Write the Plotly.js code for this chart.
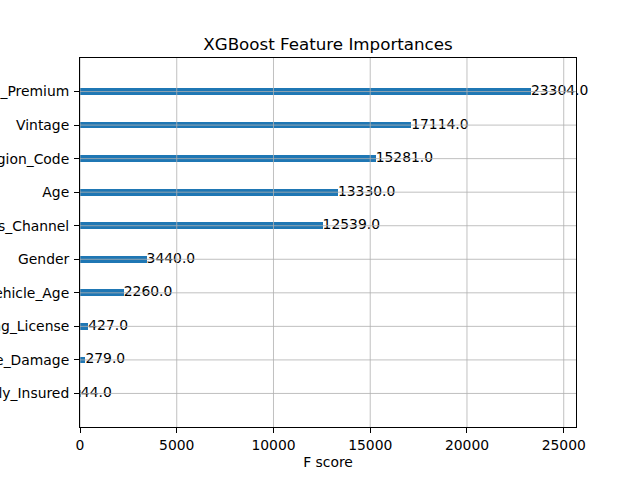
<!DOCTYPE html>
<html>
<head>
<meta charset="utf-8">
<script src="https://cdn.plot.ly/plotly-3.0.1.min.js"></script>
<style>html,body{margin:0;padding:0;background:#fff;}#chart{width:640px;height:480px;}</style>
</head>
<body>
<div id="chart"></div>
<script>
// Data (bottom to top, as drawn)
const features = ["Previously_Insured", "Vehicle_Damage", "Driving_License", "Vehicle_Age", "Gender",
                  "Policy_Sales_Channel", "Age", "Region_Code", "Vintage", "Annual_Premium"];
const fscores = [44, 279, 427, 2260, 3440, 12539, 13330, 15281, 17114, 23304];
const xTicks = [0, 5000, 10000, 15000, 20000, 25000];

const FONT = "DejaVu Sans, sans-serif";
const xMax = Math.max(...fscores) * 1.1;

const bars = {
  type: "bar", orientation: "h",
  x: fscores, y: features, width: 0.2,
  marker: {color: "#1f77b4", line: {width: 0}},
  hoverinfo: "skip", showlegend: false
};
const labels = {
  type: "scatter", mode: "text",
  x: fscores, y: features,
  text: fscores.map(v => v.toFixed(1)),
  textposition: "middle right",
  textfont: {family: FONT, size: 13.9, color: "#000"},
  cliponaxis: false, hoverinfo: "skip", showlegend: false
};

// grid lines drawn above the bars, as matplotlib does
const shapes = [];
features.forEach(f => shapes.push({type: "line", layer: "above", xref: "x domain", yref: "y",
  x0: 0, x1: 1, y0: f, y1: f, line: {color: "#b0b0b0", width: 0.8}}));
xTicks.forEach(t => shapes.push({type: "line", layer: "above", xref: "x", yref: "y domain",
  x0: t, x1: t, y0: 0, y1: 1, line: {color: "#b0b0b0", width: 0.8}}));

const layout = {
  width: 640, height: 480,
  paper_bgcolor: "#fff", plot_bgcolor: "#fff",
  margin: {l: 80, r: 64, t: 58, b: 53, pad: 0},
  font: {family: FONT, size: 13.9, color: "#000"},
  title: {text: "XGBoost Feature Importances", font: {family: FONT, size: 16.7, color: "#000"},
          x: 0.5, xref: "paper", xanchor: "center", y: 1, yref: "paper", yanchor: "bottom", pad: {b: 8}},
  xaxis: {
    range: [0, xMax], tickmode: "array", tickvals: xTicks, ticktext: xTicks.map(String),
    showgrid: false, zeroline: false,
    showline: true, mirror: true, linecolor: "#000", linewidth: 1,
    ticks: "outside", ticklen: 5, tickwidth: 1, tickcolor: "#000",
    tickfont: {family: FONT, size: 13.9, color: "#000"},
    title: {text: "F score", font: {family: FONT, size: 13.9, color: "#000"}, standoff: 5},
    automargin: false, fixedrange: true
  },
  yaxis: {
    type: "category", categoryorder: "array", categoryarray: features,
    range: [-1, features.length],
    showgrid: false, zeroline: false,
    showline: true, mirror: true, linecolor: "#000", linewidth: 1,
    ticks: "outside", ticklen: 5, tickwidth: 1, tickcolor: "#000",
    ticklabelstandoff: 2,
    tickfont: {family: FONT, size: 13.9, color: "#000"},
    automargin: false, fixedrange: true
  },
  shapes: shapes,
  bargap: 0
};

Plotly.newPlot("chart", [bars, labels], layout, {displayModeBar: false, staticPlot: true});
</script>
</body>
</html>
